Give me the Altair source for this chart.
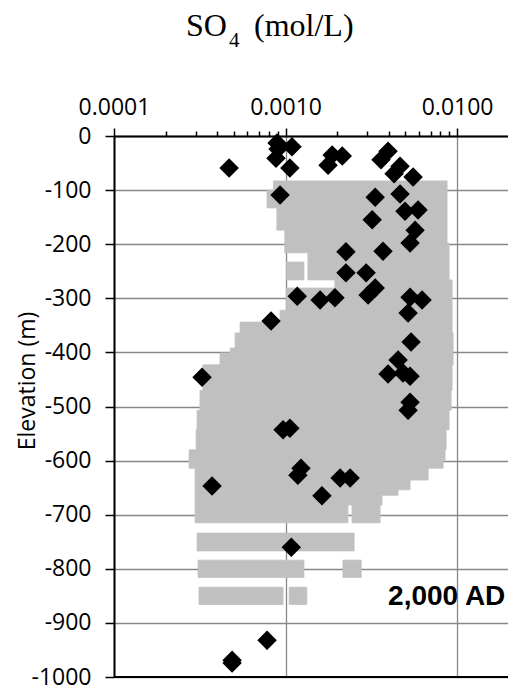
import altair as alt
import pandas as pd

# ---- measured SO4 concentrations (black diamonds) ----
so4_conc = [0.000469, 0.000892, 0.000904, 0.00109, 0.00088, 0.00106,
            0.00187, 0.00214, 0.00177,
            0.00396, 0.0036, 0.00465, 0.00429, 0.00554,
            0.000929, 0.00333, 0.00465, 0.00497, 0.00592, 0.0032, 0.00569,
            0.00532, 0.0037, 0.00225, 0.00225, 0.00295, 0.00333, 0.00303,
            0.00117, 0.00159, 0.00194, 0.00532, 0.00625, 0.00518, 0.000823,
            0.00539, 0.00453, 0.00396, 0.00484, 0.00532, 0.00532, 0.00518,
            0.000326, 0.000967, 0.00106, 0.00123, 0.00118, 0.000373,
            0.00208, 0.00238, 0.00163,
            0.00108, 0.00078, 0.000488, 0.000488]
so4_elev = [-59, -13, -24, -20, -41, -59,
            -35, -37, -54,
            -28, -44, -56, -70, -76,
            -109, -113, -107, -139, -137, -155, -174,
            -198, -213, -214, -253, -253, -281, -294,
            -296, -303, -299, -298, -303, -327, -342,
            -381, -414, -440, -438, -444, -492, -507,
            -446, -543, -540, -614, -627, -647,
            -632, -632, -665,
            -760, -932, -974, -969]

# ---- model results at 2,000 AD (grey cloud), as elevation bands ----
band_top = [-83, -100, -133, -174, -198, -216, -233, -233, -266, -281, -322,
            -344, -364, -392, -401, -423, -470, -507, -543, -580, -599, -614,
            -636, -654, -664, -682, -682, -734, -784, -784, -834, -834]
band_bottom = [-100, -133, -174, -198, -216, -233, -266, -266, -281, -322, -344,
               -364, -392, -401, -423, -470, -507, -543, -580, -599, -614, -636,
               -654, -664, -682, -715, -715, -767, -816, -816, -866, -866]
band_low = [0.00085, 0.00078, 0.00089, 0.00099, 0.00099, 0.00135, 0.00101, 0.00135,
            0.00194, 0.00101, 0.000929, 0.000543, 0.000508, 0.000475, 0.000415,
            0.00033, 0.000317, 0.000305, 0.000301, 0.000274, 0.000274, 0.000297,
            0.000297, 0.000297, 0.000297, 0.000297, 0.00244, 0.000305, 0.000309,
            0.00216, 0.000313, 0.00105]
band_high = [0.00874, 0.00874, 0.00874, 0.00874, 0.00898, 0.00898, 0.00128, 0.00898,
             0.00935, 0.00935, 0.00935, 0.00935, 0.00948, 0.00948, 0.00948,
             0.00935, 0.00923, 0.00898, 0.00863, 0.00851, 0.00829, 0.00678,
             0.00532, 0.00453, 0.00365, 0.00231, 0.00356, 0.00251, 0.00128,
             0.00276, 0.000967, 0.00133]

x_tick_values = [0.0001, 0.0002, 0.0003, 0.0004, 0.0005, 0.0006, 0.0007, 0.0008, 0.0009,
                 0.001, 0.002, 0.003, 0.004, 0.005, 0.006, 0.007, 0.008, 0.009, 0.01]
y_tick_values = [0, -100, -200, -300, -400, -500, -600, -700, -800, -900, -1000]
x_domain = [0.0001, 0.0198]
y_domain = [-1000, 0]
bottom_line = [-1000]
note_conc = [0.00396]
note_elev = [-853]
note_text = ["2,000 AD"]

LABEL_FONT = "Open Sans"
GRID = "#878787"

points = pd.DataFrame({"conc": so4_conc, "elev": so4_elev})
bands = pd.DataFrame({"top": band_top, "bottom": band_bottom,
                      "low": band_low, "high": band_high})

xscale = alt.Scale(type="log", domain=x_domain, nice=False)
yscale = alt.Scale(domain=y_domain, nice=False, zero=False)

decade = "abs(log(datum.value)/LN10 - round(log(datum.value)/LN10)) < 0.001"

x_axis = alt.Axis(
    orient="top", values=x_tick_values, title=None,
    labelExpr=f"({decade}) ? format(datum.value, '.4f') : ''",
    labelFont=LABEL_FONT, labelFontSize=23, labelColor="black",
    labelPadding=9, labelFlush=False, labelOverlap=False,
    grid=True, gridColor=GRID, gridWidth=1.3,
    gridOpacity={"condition": {"test": decade, "value": 1}, "value": 0},
    ticks=True, tickColor="black", tickWidth=1.5,
    tickSize={"condition": {"test": decade, "value": 8}, "value": 5},
    domain=True, domainColor="black", domainWidth=2,
)
y_axis = alt.Axis(
    values=y_tick_values, title=None, labelExpr="datum.value + ''",
    labelFont=LABEL_FONT, labelFontSize=23, labelColor="black",
    labelPadding=14, labelFlush=False, labelOverlap=False,
    grid=True, gridColor=GRID, gridWidth=1.3,
    ticks=True, tickColor="black", tickWidth=1.5, tickSize=9,
    domain=True, domainColor="black", domainWidth=2,
)

cloud = alt.Chart(bands).mark_rect(color="#c0c0c0", stroke="#c0c0c0", strokeWidth=0.8).encode(
    x=alt.X("low:Q", scale=xscale, axis=x_axis),
    x2="high:Q",
    y=alt.Y("top:Q", scale=yscale, axis=y_axis),
    y2="bottom:Q",
)

bottom = alt.Chart(pd.DataFrame({"elev": bottom_line})).mark_rule(
    color="black", strokeWidth=2
).encode(y=alt.Y("elev:Q", scale=yscale, axis=y_axis))

diamonds = alt.Chart(points).mark_point(
    shape="diamond", filled=True, color="black", opacity=1, size=380
).encode(
    x=alt.X("conc:Q", scale=xscale, axis=x_axis),
    y=alt.Y("elev:Q", scale=yscale, axis=y_axis),
)

note = alt.Chart(pd.DataFrame({"conc": note_conc, "elev": note_elev, "t": note_text})).mark_text(
    align="left", baseline="middle", font="Liberation Sans", fontSize=28,
    fontWeight="bold", color="black"
).encode(
    x=alt.X("conc:Q", scale=xscale, axis=x_axis),
    y=alt.Y("elev:Q", scale=yscale, axis=y_axis),
    text="t:N",
)

dummy = pd.DataFrame({"d": [0]})
t_so = alt.Chart(dummy).mark_text(
    text="SO", align="left", baseline="alphabetic", font="Liberation Serif",
    fontSize=32, color="black"
).encode(x=alt.value(72), y=alt.value(-100))
t_4 = alt.Chart(dummy).mark_text(
    text="4", align="left", baseline="alphabetic", font="Liberation Serif",
    fontSize=21, color="black"
).encode(x=alt.value(115), y=alt.value(-89))
t_unit = alt.Chart(dummy).mark_text(
    text="(mol/L)", align="left", baseline="alphabetic", font="Liberation Serif",
    fontSize=32, color="black"
).encode(x=alt.value(140), y=alt.value(-100))
t_y = alt.Chart(dummy).mark_text(
    text="Elevation (m)", align="center", baseline="middle", font=LABEL_FONT,
    fontSize=23, color="black", angle=270
).encode(x=alt.value(-86), y=alt.value(245))

chart = alt.layer(cloud, bottom, diamonds, note, t_so, t_4, t_unit, t_y).properties(
    width=394, height=541,
    autosize=alt.AutoSizeParams(type="none"),
    padding={"left": 114, "top": 136, "right": 0, "bottom": 13},
    background="white",
).configure_view(stroke=None)

chart.save("out.html", embed_options={"renderer": "svg", "actions": False})
